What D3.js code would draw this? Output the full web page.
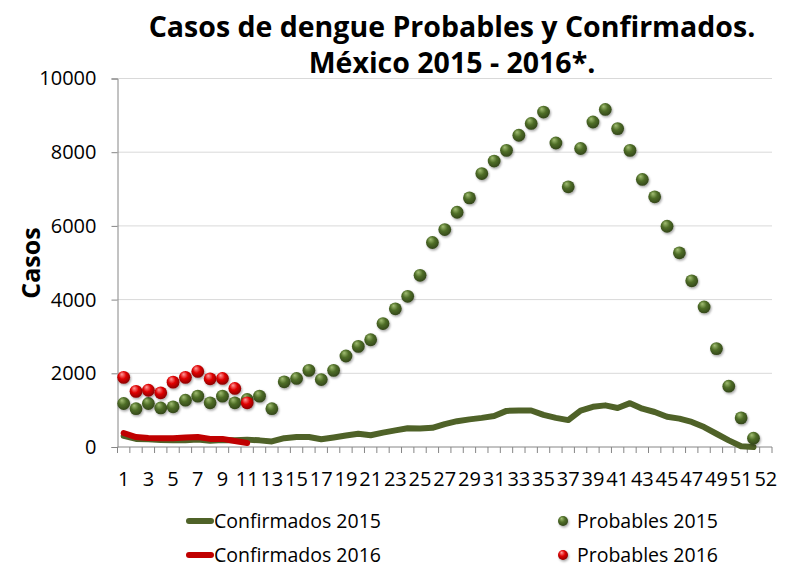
<!DOCTYPE html>
<meta charset="utf-8" />
<script src="https://d3js.org/d3.v7.js"></script>
<style>
	body { margin: 0; background: #fff; }
	svg { font-family: "Open Sans", sans-serif; }
</style>
<div id="chart"></div>
<script>
	// Semanas epidemiológicas (the axis has 53 slots, last one is empty)
	const weeks = d3.range(1, 54);
	const xLabelSlots = [1, 3, 5, 7, 9, 11, 13, 15, 17, 19, 21, 23, 25, 27, 29, 31, 33, 35, 37, 39, 41, 43, 45, 47, 49, 51, 53];
	const xLabelText = ["1", "3", "5", "7", "9", "11", "13", "15", "17", "19", "21", "23", "25", "27", "29", "31", "33", "35", "37", "39", "41", "43", "45", "47", "49", "51", "52"];
	const yTicks = [0, 2000, 4000, 6000, 8000, 10000];

	const probables2015 = [1180, 1040, 1180, 1060, 1090, 1270, 1380, 1200, 1380, 1200, 1290, 1380, 1040,
		1770, 1860, 2080, 1830, 2080, 2470, 2730, 2910, 3350, 3750, 4090, 4660, 5550, 5900, 6370, 6760,
		7420, 7760, 8050, 8460, 8780, 9090, 8250, 7060, 8100, 8820, 9160, 8640, 8050, 7260, 6790, 5990,
		5270, 4510, 3800, 2670, 1650, 790, 240];
	const confirmados2015 = [300, 220, 210, 190, 180, 180, 200, 170, 190, 180, 200, 180, 150, 240, 270,
		270, 210, 260, 310, 360, 320, 390, 450, 510, 500, 520, 620, 700, 750, 790, 840, 980, 990, 990,
		870, 790, 730, 990, 1090, 1130, 1060, 1190, 1040, 950, 820, 770, 680, 540, 360, 180, 20, 0];
	const probables2016 = [1890, 1510, 1540, 1470, 1760, 1890, 2050, 1850, 1860, 1590, 1200];
	const confirmados2016 = [380, 270, 245, 240, 240, 255, 270, 220, 220, 165, 110];

	const W = 797, H = 569;
	const plotL = 117.5, plotR = 772, plotT = 78.5, plotB = 447;

	const svg = d3.select("#chart").append("svg")
		.attr("width", W)
		.attr("height", H);

	const defs = svg.append("defs");
	function ball(id, c0, c1, c2) {
		const g = defs.append("radialGradient").attr("id", id)
			.attr("cx", "45%").attr("cy", "40%").attr("r", "60%")
			.attr("fx", "35%").attr("fy", "25%");
		g.append("stop").attr("offset", "0%").attr("stop-color", c0);
		g.append("stop").attr("offset", "50%").attr("stop-color", c1);
		g.append("stop").attr("offset", "100%").attr("stop-color", c2);
	}
	ball("gball", "#a3bf74", "#4f6e27", "#33461a");
	ball("rball", "#ff9c9c", "#e00000", "#8a0000");
	defs.append("filter").attr("id", "shadow")
		.attr("x", "-50%").attr("y", "-50%").attr("width", "200%").attr("height", "200%")
		.append("feDropShadow")
		.attr("dx", 1).attr("dy", 1.5).attr("stdDeviation", 1)
		.attr("flood-color", "#000").attr("flood-opacity", 0.35);

	const x = d3.scaleBand().domain(weeks).range([plotL, plotR]).padding(0);
	const cx = w => x(w) + x.bandwidth() / 2;
	const y = d3.scaleLinear().domain([0, 10000]).range([plotB, plotT]);

	// gridlines
	svg.append("g")
		.selectAll("line")
		.data(yTicks.slice(1))
		.join("line")
		.attr("x1", plotL).attr("x2", plotR)
		.attr("y1", d => y(d)).attr("y2", d => y(d))
		.attr("stroke", "#d9d9d9").attr("stroke-width", 1);

	// y axis
	const yAxis = svg.append("g")
		.attr("transform", `translate(${plotL},0)`)
		.call(d3.axisLeft(y).tickValues(yTicks).tickFormat(d3.format("d")).tickSize(6).tickPadding(15));
	yAxis.select(".domain").attr("stroke", "#868686");
	yAxis.selectAll(".tick line").attr("stroke", "#868686");
	yAxis.selectAll("text")
		.attr("font-family", "Open Sans")
		.attr("font-size", 20)
		.attr("fill", "#000");

	// x axis line + ticks at slot boundaries
	svg.append("line")
		.attr("x1", plotL).attr("x2", plotR)
		.attr("y1", plotB).attr("y2", plotB)
		.attr("stroke", "#868686");
	svg.append("g")
		.selectAll("line")
		.data(weeks.concat([null]))
		.join("line")
		.attr("x1", d => d === null ? plotR : x(d))
		.attr("x2", d => d === null ? plotR : x(d))
		.attr("y1", plotB).attr("y2", plotB + 6)
		.attr("stroke", "#868686");
	svg.append("g")
		.selectAll("text")
		.data(xLabelSlots)
		.join("text")
		.attr("x", d => cx(d))
		.attr("y", 486)
		.attr("text-anchor", "middle")
		.attr("font-size", 20)
		.text((d, i) => xLabelText[i]);

	// lines
	const line = d3.line()
		.x((d, i) => cx(weeks[i]))
		.y(d => y(d));
	svg.append("path")
		.datum(confirmados2015)
		.attr("d", line)
		.attr("fill", "none")
		.attr("stroke", "#4f6228")
		.attr("stroke-width", 6)
		.attr("stroke-linejoin", "round")
		.attr("stroke-linecap", "round");
	svg.append("path")
		.datum(confirmados2016)
		.attr("d", line)
		.attr("fill", "none")
		.attr("stroke", "#c00000")
		.attr("stroke-width", 6)
		.attr("stroke-linejoin", "round")
		.attr("stroke-linecap", "round");

	// dots
	svg.append("g")
		.selectAll("circle")
		.data(probables2015)
		.join("circle")
		.attr("cx", (d, i) => cx(weeks[i]))
		.attr("cy", d => y(d))
		.attr("r", 6.4)
		.attr("fill", "url(#gball)")
		.attr("filter", "url(#shadow)");
	svg.append("g")
		.selectAll("circle")
		.data(probables2016)
		.join("circle")
		.attr("cx", (d, i) => cx(weeks[i]))
		.attr("cy", d => y(d))
		.attr("r", 6.4)
		.attr("fill", "url(#rball)")
		.attr("filter", "url(#shadow)");

	// title
	const title = svg.append("text")
		.attr("text-anchor", "middle")
		.attr("font-weight", "bold")
		.attr("font-size", 28.5);
	title.append("tspan").attr("x", 452).attr("y", 37).text("Casos de dengue Probables y Confirmados.");
	title.append("tspan").attr("x", 452).attr("y", 73).text("México 2015 - 2016*.");

	// y label
	svg.append("text")
		.attr("transform", "translate(40,263) rotate(-90)")
		.attr("text-anchor", "middle")
		.attr("font-weight", "bold")
		.attr("font-size", 25)
		.text("Casos");

	// legend
	const legendItems = [
		{ name: "Confirmados 2015", type: "line", color: "#4f6228", lx: 187, ly: 521 },
		{ name: "Confirmados 2016", type: "line", color: "#c00000", lx: 187, ly: 555 },
		{ name: "Probables 2015", type: "dot", color: "url(#gball)", lx: 563, ly: 521 },
		{ name: "Probables 2016", type: "dot", color: "url(#rball)", lx: 563, ly: 555 }
	];
	const legend = svg.append("g")
		.selectAll("g")
		.data(legendItems)
		.join("g")
		.attr("transform", d => `translate(${d.lx},${d.ly})`);
	legend.filter(d => d.type === "line")
		.append("line")
		.attr("x1", 2).attr("x2", 24)
		.attr("stroke", d => d.color)
		.attr("stroke-width", 6)
		.attr("stroke-linecap", "round");
	legend.filter(d => d.type === "dot")
		.append("circle")
		.attr("r", 5)
		.attr("fill", d => d.color)
		.attr("filter", "url(#shadow)");
	legend.append("text")
		.attr("x", d => d.type === "line" ? 27 : 14)
		.attr("dy", "0.35em")
		.attr("font-size", 19.5)
		.text(d => d.name);
</script>
